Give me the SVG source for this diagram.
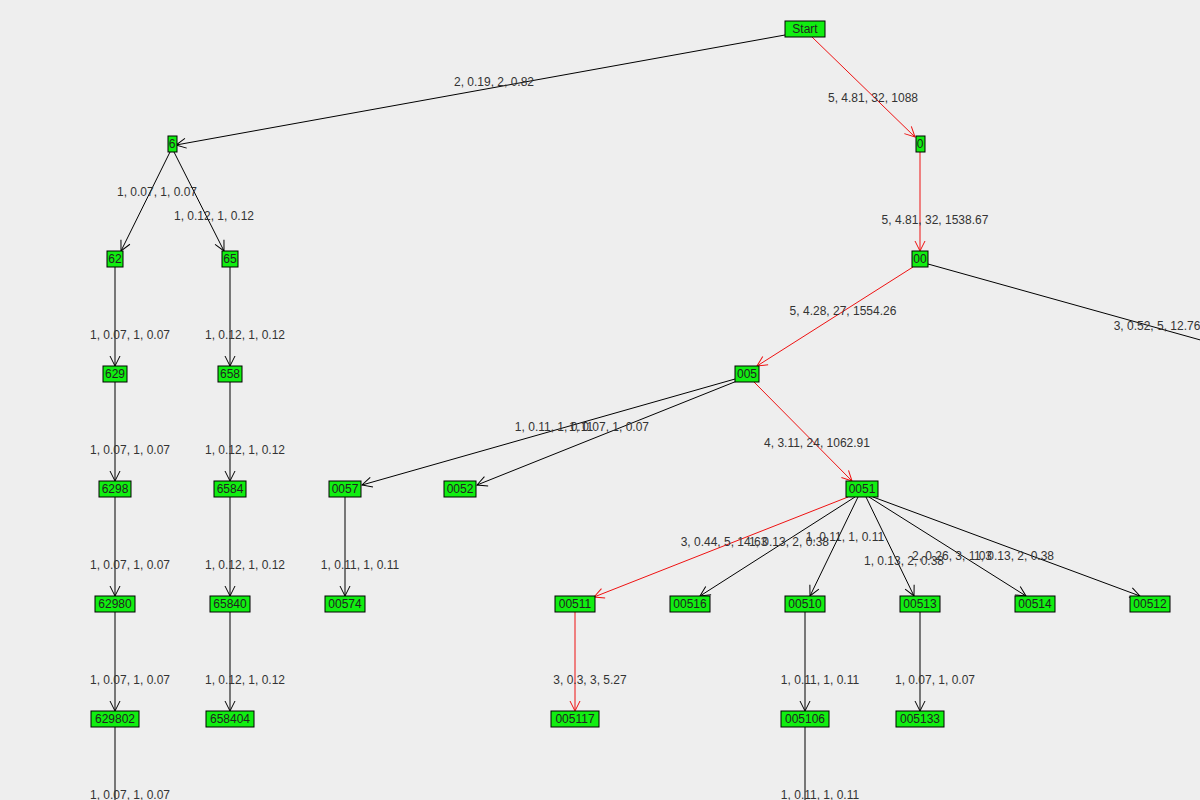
<svg xmlns="http://www.w3.org/2000/svg" width="1200" height="800" viewBox="0 0 1200 800">
<style>
.n rect{fill:#11ee11;stroke:#000;stroke-width:1}
.n text{font-family:"Liberation Sans",Arial,sans-serif;font-size:12px;fill:#222;text-anchor:middle}
.e{stroke:#000;stroke-width:1;fill:none;marker-end:url(#ab)}
.r{stroke:#ee1111;stroke-width:1;fill:none;marker-end:url(#ar)}
.l{font-family:"Liberation Sans",Arial,sans-serif;font-size:12px;fill:#333;text-anchor:middle}
</style>
<defs>
<marker id="ab" viewBox="0 0 12 12" refX="11" refY="6" markerWidth="12" markerHeight="12" markerUnits="userSpaceOnUse" orient="auto"><path d="M1,1 L11,6 L1,11" fill="none" stroke="#000"/></marker>
<marker id="ar" viewBox="0 0 12 12" refX="11" refY="6" markerWidth="12" markerHeight="12" markerUnits="userSpaceOnUse" orient="auto"><path d="M1,1 L11,6 L1,11" fill="none" stroke="#ee1111"/></marker>
</defs>
<rect width="1200" height="800" fill="#eeeeee"/>
<g id="connectors">
<path class="e" d="M785,35 L176,145"/>
<path class="r" d="M812,37 L915,137"/>
<path class="e" d="M170,152 L121,251"/>
<path class="e" d="M174,152 L224,251"/>
<path class="r" d="M920,152 L920,251"/>
<path class="r" d="M913,267 L757,366"/>
<path class="e" d="M928,264 L1265,358"/>
<path class="e" d="M735,379 L362,485"/>
<path class="e" d="M737,381 L477,485"/>
<path class="r" d="M754,382 L852,481"/>
<path class="r" d="M848,497 L594,597"/>
<path class="e" d="M855,497 L700,596"/>
<path class="e" d="M858,497 L810,596"/>
<path class="e" d="M866,497 L914,596"/>
<path class="e" d="M869,497 L1026,596"/>
<path class="e" d="M873,497 L1140,596"/>
<path class="e" d="M115,267 L115,366"/>
<path class="e" d="M115,382 L115,481"/>
<path class="e" d="M115,497 L115,596"/>
<path class="e" d="M115,612 L115,711"/>
<path d="M115,727 L115,800" stroke="#000"/>
<path class="e" d="M230,267 L230,366"/>
<path class="e" d="M230,382 L230,481"/>
<path class="e" d="M230,497 L230,596"/>
<path class="e" d="M230,612 L230,711"/>
<path class="e" d="M345,497 L345,596"/>
<path class="r" d="M575,612 L575,711"/>
<path class="e" d="M805,612 L805,711"/>
<path d="M805,727 L805,800" stroke="#000"/>
<path class="e" d="M920,612 L920,711"/>
<text class="l" x="494" y="86">2, 0.19, 2, 0.82</text>
<text class="l" x="873" y="102">5, 4.81, 32, 1088</text>
<text class="l" x="157" y="196">1, 0.07, 1, 0.07</text>
<text class="l" x="214" y="220">1, 0.12, 1, 0.12</text>
<text class="l" x="935" y="224">5, 4.81, 32, 1538.67</text>
<text class="l" x="843" y="315">5, 4.28, 27, 1554.26</text>
<text class="l" x="1157" y="330">3, 0.52, 5, 12.76</text>
<text class="l" x="554" y="431">1, 0.11, 1, 0.11</text>
<text class="l" x="609" y="431">1, 0.07, 1, 0.07</text>
<text class="l" x="817" y="447">4, 3.11, 24, 1062.91</text>
<text class="l" x="724" y="546">3, 0.44, 5, 14.63</text>
<text class="l" x="789" y="546">1, 0.13, 2, 0.38</text>
<text class="l" x="845" y="541">1, 0.11, 1, 0.11</text>
<text class="l" x="904" y="565">1, 0.13, 2, 0.38</text>
<text class="l" x="952" y="560">2, 0.26, 3, 1.03</text>
<text class="l" x="1014" y="560">1, 0.13, 2, 0.38</text>
<text class="l" x="130" y="339">1, 0.07, 1, 0.07</text>
<text class="l" x="130" y="454">1, 0.07, 1, 0.07</text>
<text class="l" x="130" y="569">1, 0.07, 1, 0.07</text>
<text class="l" x="130" y="684">1, 0.07, 1, 0.07</text>
<text class="l" x="130" y="799">1, 0.07, 1, 0.07</text>
<text class="l" x="245" y="339">1, 0.12, 1, 0.12</text>
<text class="l" x="245" y="454">1, 0.12, 1, 0.12</text>
<text class="l" x="245" y="569">1, 0.12, 1, 0.12</text>
<text class="l" x="245" y="684">1, 0.12, 1, 0.12</text>
<text class="l" x="360" y="569">1, 0.11, 1, 0.11</text>
<text class="l" x="590" y="684">3, 0.3, 3, 5.27</text>
<text class="l" x="820" y="684">1, 0.11, 1, 0.11</text>
<text class="l" x="820" y="799">1, 0.11, 1, 0.11</text>
<text class="l" x="935" y="684">1, 0.07, 1, 0.07</text>
</g>
<g id="Start" class="n"><rect x="785" y="21" width="40" height="16"/><text x="805" y="33">Start</text></g>
<g id="n6" class="n"><rect x="168" y="136" width="9" height="16"/><text x="172" y="148">6</text></g>
<g id="n0" class="n"><rect x="916" y="136" width="9" height="16"/><text x="920" y="148">0</text></g>
<g id="n62" class="n"><rect x="107" y="251" width="16" height="16"/><text x="115" y="263">62</text></g>
<g id="n65" class="n"><rect x="222" y="251" width="16" height="16"/><text x="230" y="263">65</text></g>
<g id="n00" class="n"><rect x="912" y="251" width="16" height="16"/><text x="920" y="263">00</text></g>
<g id="n629" class="n"><rect x="103" y="366" width="24" height="16"/><text x="115" y="378">629</text></g>
<g id="n658" class="n"><rect x="218" y="366" width="24" height="16"/><text x="230" y="378">658</text></g>
<g id="n005" class="n"><rect x="735" y="366" width="24" height="16"/><text x="747" y="378">005</text></g>
<g id="n6298" class="n"><rect x="99" y="481" width="32" height="16"/><text x="115" y="493">6298</text></g>
<g id="n6584" class="n"><rect x="214" y="481" width="32" height="16"/><text x="230" y="493">6584</text></g>
<g id="n0057" class="n"><rect x="329" y="481" width="32" height="16"/><text x="345" y="493">0057</text></g>
<g id="n0052" class="n"><rect x="444" y="481" width="32" height="16"/><text x="460" y="493">0052</text></g>
<g id="n0051" class="n"><rect x="846" y="481" width="32" height="16"/><text x="862" y="493">0051</text></g>
<g id="n62980" class="n"><rect x="95" y="596" width="40" height="16"/><text x="115" y="608">62980</text></g>
<g id="n65840" class="n"><rect x="210" y="596" width="40" height="16"/><text x="230" y="608">65840</text></g>
<g id="n00574" class="n"><rect x="325" y="596" width="40" height="16"/><text x="345" y="608">00574</text></g>
<g id="n00511" class="n"><rect x="555" y="596" width="40" height="16"/><text x="575" y="608">00511</text></g>
<g id="n00516" class="n"><rect x="670" y="596" width="40" height="16"/><text x="690" y="608">00516</text></g>
<g id="n00510" class="n"><rect x="785" y="596" width="40" height="16"/><text x="805" y="608">00510</text></g>
<g id="n00513" class="n"><rect x="900" y="596" width="40" height="16"/><text x="920" y="608">00513</text></g>
<g id="n00514" class="n"><rect x="1015" y="596" width="40" height="16"/><text x="1035" y="608">00514</text></g>
<g id="n00512" class="n"><rect x="1130" y="596" width="40" height="16"/><text x="1150" y="608">00512</text></g>
<g id="n629802" class="n"><rect x="91" y="711" width="48" height="16"/><text x="115" y="723">629802</text></g>
<g id="n658404" class="n"><rect x="206" y="711" width="48" height="16"/><text x="230" y="723">658404</text></g>
<g id="n005117" class="n"><rect x="551" y="711" width="48" height="16"/><text x="575" y="723">005117</text></g>
<g id="n005106" class="n"><rect x="781" y="711" width="48" height="16"/><text x="805" y="723">005106</text></g>
<g id="n005133" class="n"><rect x="896" y="711" width="48" height="16"/><text x="920" y="723">005133</text></g>
</svg>
